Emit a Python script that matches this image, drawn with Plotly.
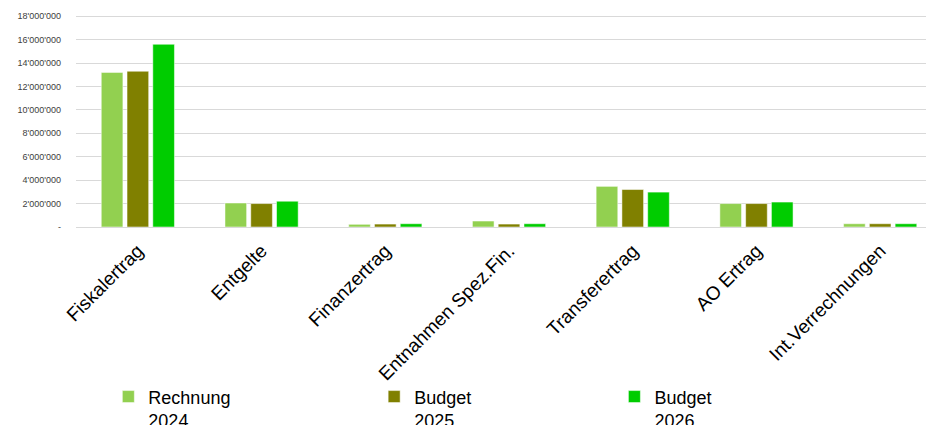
import plotly.graph_objects as go

categories = ["Fiskalertrag", "Entgelte", "Finanzertrag", "Entnahmen Spez.Fin.",
              "Transferertrag", "AO Ertrag", "Int.Verrechnungen"]
series_names = ["Rechnung<br>2024", "Budget<br>2025", "Budget<br>2026"]
rechnung_2024 = [13200000, 2050000, 230000, 510000, 3470000, 2000000, 280000]
budget_2025 = [13300000, 2000000, 250000, 250000, 3200000, 2000000, 280000]
budget_2026 = [15600000, 2200000, 280000, 280000, 2980000, 2130000, 280000]
colors = ["#92D050", "#808000", "#00CC00"]
tick_vals = [0, 2000000, 4000000, 6000000, 8000000, 10000000, 12000000,
             14000000, 16000000, 18000000]
tick_text = ["-", "2'000'000", "4'000'000", "6'000'000", "8'000'000", "10'000'000",
             "12'000'000", "14'000'000", "16'000'000", "18'000'000"]

fig = go.Figure()
legends = ["legend2", "legend3", "legend4"]
for name, vals, col, lg in zip(series_names, [rechnung_2024, budget_2025, budget_2026], colors, legends):
    fig.add_trace(go.Bar(x=categories, y=vals, name=name, marker_color=col,
                         marker_line=dict(color="rgba(255,255,255,0.5)", width=1),
                         legend=lg))

legend_common = dict(orientation="v", yanchor="top", xanchor="left", valign="top",
                     font=dict(family="Liberation Sans, Arial, sans-serif", size=18, color="#000000"),
                     bgcolor="rgba(0,0,0,0)", itemwidth=30, tracegroupgap=0)
fig.update_layout(
    width=926, height=417,
    margin=dict(l=68, r=0, t=7, b=198, autoexpand=False),
    plot_bgcolor="white", paper_bgcolor="white",
    barmode="group", bargap=0.375, bargroupgap=0.16,
    showlegend=True,
    legend=dict(visible=False),
    legend2=dict(x=0.0377, y=-0.714, **legend_common),
    legend3=dict(x=0.3475, y=-0.714, **legend_common),
    legend4=dict(x=0.6275, y=-0.714, **legend_common),
    xaxis=dict(range=[-0.5, 6.435], tickangle=-45, automargin=False,
               tickfont=dict(family="Liberation Sans, Arial, sans-serif", size=19, color="#000000"),
               ticklabelstandoff=8,
               showgrid=False, showline=False, ticks=""),
    yaxis=dict(range=[0, 18100000], tickvals=tick_vals, ticktext=tick_text, automargin=False,
               tickfont=dict(family="Liberation Sans, Arial, sans-serif", size=9, color="#404040"),
               showgrid=True, gridcolor="#D9D9D9", gridwidth=1,
               zeroline=True, zerolinecolor="#D9D9D9", zerolinewidth=1,
               ticklabelstandoff=14, showline=False, ticks=""),
)
fig.write_html("out.html")
